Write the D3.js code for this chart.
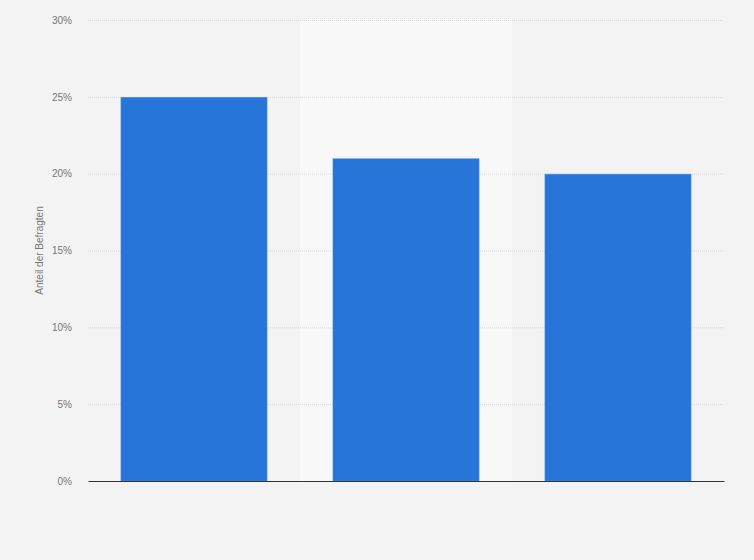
<!DOCTYPE html>
<html>
<head>
<meta charset="utf-8">
<script src="https://cdn.jsdelivr.net/npm/d3@7"></script>
<style>
  body { margin: 0; background: #f3f3f3; }
  svg { display: block; font-family: "Liberation Sans", Arial, sans-serif; }
</style>
</head>
<body>
<svg id="chart" width="754" height="560"></svg>
<script>
// categories have no visible labels in the source picture
const categories = ["1", "2", "3"];
const shares = [25, 21, 20];
const y_ticks = [0, 5, 10, 15, 20, 25, 30];

const width = 754;
const height = 560;
const margin = { top: 20, right: 30, bottom: 79, left: 88 };

const svg = d3.select("#chart");
const innerWidth = width - margin.left - margin.right;
const innerHeight = height - margin.top - margin.bottom;

svg.append("rect")
   .attr("width", width)
   .attr("height", height)
   .attr("fill", "#f3f3f3");

const g = svg.append("g")
             .attr("transform", `translate(${margin.left}, ${margin.top})`);

const xScale = d3.scaleBand()
                 .domain(categories)
                 .range([0, innerWidth])
                 .paddingInner(0.311)
                 .paddingOuter(0.1555);

const yScale = d3.scaleLinear()
                 .domain([0, 30])
                 .range([innerHeight, 0]);

// alternating column bands
const step = xScale.step();
g.selectAll(".band")
 .data(categories)
 .enter()
 .append("rect")
     .attr("class", "band")
     .attr("x", (d, i) => i * step)
     .attr("y", 0)
     .attr("width", step)
     .attr("height", innerHeight)
     .attr("fill", (d, i) => i % 2 === 1 ? "#f8f8f8" : "#f3f3f3");

// grid
const yAxis = d3.axisLeft(yScale)
                .tickValues(y_ticks)
                .tickSize(-innerWidth)
                .tickFormat(d => d + "%");

const yg = g.append("g")
            .attr("id", "y-axis")
            .call(yAxis);
yg.select(".domain").remove();
yg.selectAll(".tick line")
  .attr("stroke", "#d8d8d8")
  .attr("stroke-dasharray", "1,1");
yg.selectAll(".tick text")
  .attr("x", -16)
  .attr("fill", "#777")
  .style("font-size", "10px");

// bars
g.selectAll(".bar")
 .data(shares)
 .enter()
 .append("rect")
     .attr("class", "bar")
     .attr("x", (d, i) => xScale(categories[i]))
     .attr("y", d => yScale(d) + 0.5)
     .attr("width", xScale.bandwidth())
     .attr("height", d => innerHeight - yScale(d) - 0.5)
     .attr("fill", "#2775d9")
     .attr("stroke", "#4a8ce3")
     .attr("stroke-width", 0.6);

// baseline
const xAxis = d3.axisBottom(xScale).tickSize(0);
const xg = g.append("g")
            .attr("id", "x-axis")
            .attr("transform", `translate(0, ${innerHeight})`)
            .call(xAxis);
xg.selectAll(".tick").remove();
xg.select(".domain").attr("stroke", "#333").attr("stroke-width", 1.2);

// axis title
svg.append("text")
   .attr("transform", `translate(43, ${margin.top + innerHeight / 2}) rotate(-90)`)
   .attr("text-anchor", "middle")
   .attr("fill", "#777")
   .style("font-size", "10px")
   .text("Anteil der Befragten");
</script>
</body>
</html>
